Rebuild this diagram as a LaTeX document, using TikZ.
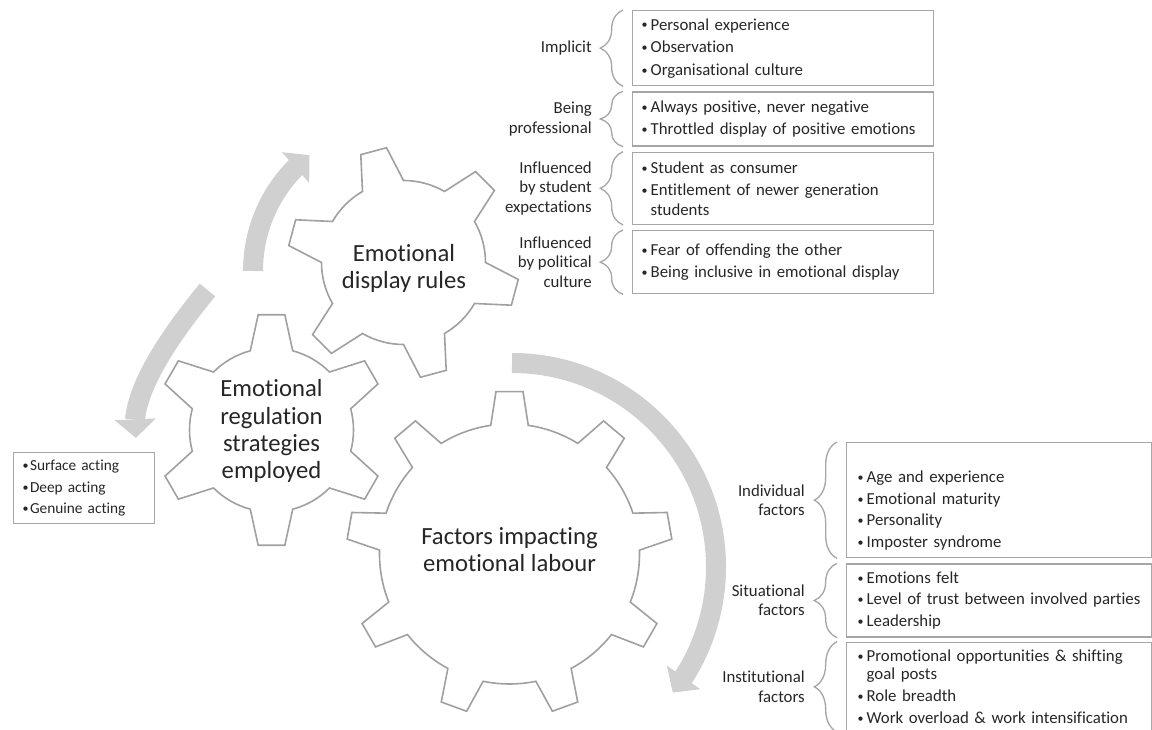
\documentclass[tikz,border=0pt]{standalone}
\usepackage{fontspec}
\setmainfont{Carlito}[Ligatures={TeX,NoCommon}]
\usepackage{tikz}
\usetikzlibrary{positioning,arrows.meta,bending,decorations.pathreplacing}

\definecolor{gearline}{HTML}{A0A0A0}
\definecolor{boxline}{HTML}{A6A6A6}
\definecolor{cycfill}{HTML}{D0D0D0}
\definecolor{ink}{HTML}{262626}

\newcommand{\bul}[1][6.75pt]{\makebox[#1][l]{\raisebox{0.8pt}{\fontsize{9}{9}\selectfont\textbullet}}}
\newcommand{\nobul}[1][6.75pt]{\hspace*{#1}}

% gear outline: centre x, centre y, teeth, outer r, inner r,
% tip half-angle, root half-angle, angle of first tooth
\newcommand{\drawgear}[8]{%
  \pgfmathsetmacro\gstep{360/#3}%
  \pgfmathtruncatemacro\glast{#3-1}%
  \begin{scope}[shift={(#1,#2)}]
    \draw[gearshape] ({#8-#7}:#5)
      \foreach \k in {0,...,\glast}{
        -- ({#8+\k*\gstep-#6}:#4) -- ({#8+\k*\gstep+#6}:#4) -- ({#8+\k*\gstep+#7}:#5)
        arc[start angle={#8+\k*\gstep+#7}, end angle={#8+(\k+1)*\gstep-#7}, radius=#5]
      } -- cycle;
  \end{scope}}

\begin{document}
\begin{tikzpicture}[
  x=0.75pt, y=0.75pt,
  font=\fontsize{12.6}{14.5}\selectfont, text=ink,
  gearshape/.style={draw=gearline, line width=1.2pt, fill=white},
  geartext/.style={align=center, font=\fontsize{18.5}{20.3}\selectfont},
  listbox/.style={draw=boxline, line width=1pt, align=left, inner ysep=0pt, anchor=north west},
  topbox/.style={listbox, inner xsep=6.75pt, text width=212.25pt, minimum height=#1},
  botbox/.style={listbox, inner xsep=8.25pt, text width=212.25pt, minimum height=#1,
    font=\fontsize{12.6}{13.5}\selectfont},
  lbl/.style={align=right, anchor=east, inner sep=0pt},
  brc/.style={draw=boxline, line width=1pt, decorate, decoration={brace, amplitude=17pt}},
  cyc/.style={draw=cycfill, line width=15pt, -{Triangle[width=30pt, length=14pt]}},
]
\useasboundingbox (0,0) rectangle (1152,730);

% circular arrows
\draw[cyc] (253,459) arc[start angle=180, end angle=128, radius=147];
\draw[cyc] (207.5,440) .. controls (152.4,373.1) and (128.6,323.8) .. (136,292);
\draw[cyc] (512,367) arc[start angle=90, end angle=-38, radius=204];

% gears
\drawgear{509.5}{176}{9}{163}{130}{4.75}{8.3}{90}
\drawgear{271.5}{300}{6}{116}{82}{6.6}{15}{30}
\drawgear{403.5}{467.5}{6}{116}{82}{6.6}{15}{45}

\node[geartext] (dsp) at (404,462) {Emotional\\display rules};
\node[geartext] (reg) at (271.5,299) {Emotional\\regulation\\strategies\\employed};
\node[geartext] (fac) at (509.5,180) {Factors impacting\\emotional labour};

% display rules
\node[topbox=56.25pt] (imp) at (632,720)
  {\bul Personal experience\\[2.4pt]\bul Observation\\[2.4pt]\bul Organisational culture};
\node[topbox=40.5pt, below=3.75pt of imp] (pro)
  {\bul Always positive, never negative\\[2.4pt]\bul Throttled display of positive emotions};
\node[topbox=54pt, below=3.75pt of pro] (stu)
  {\bul Student as consumer\\[2.4pt]\bul Entitlement of newer generation\\\nobul students};
\node[topbox=47.25pt, below=3.75pt of stu] (pol)
  {\bul Fear of offending the other\\[2.4pt]\bul Being inclusive in emotional display};

\draw[brc] ([xshift=-6.75pt]imp.south west) -- ([xshift=-6.75pt]imp.north west);
\draw[brc] ([xshift=-6.75pt]pro.south west) -- ([xshift=-6.75pt]pro.north west);
\draw[brc] ([xshift=-6.75pt]stu.south west) -- ([xshift=-6.75pt]stu.north west);
\draw[brc] ([xshift=-6.75pt]pol.south west) -- ([xshift=-6.75pt]pol.north west);

\node[lbl] (impl) at ([xshift=-30pt]imp.west) {Implicit};
\node[lbl] (prol) at ([xshift=-30pt]pro.west) {Being\\professional};
\node[lbl] (stul) at ([xshift=-30pt]stu.west) {Influenced\\by student\\expectations};
\node[lbl] (poll) at ([xshift=-30pt]pol.west) {Influenced\\by political\\culture};

% factors
\node[botbox=86.25pt] (ind) at (846,288)
  {\mbox{}\\[11pt]\bul Age and experience\\[2.7pt]\bul Emotional maturity\\[2.7pt]\bul Personality\\[2.7pt]\bul Imposter syndrome};
\node[botbox=54.75pt, below=3.75pt of ind] (sit)
  {\bul Emotions felt\\[2.7pt]\bul Level of trust between involved parties\\[2.7pt]\bul Leadership};
\node[botbox=66.75pt, below=3pt of sit] (ins)
  {\bul Promotional opportunities \& shifting\\\nobul goal posts\\[2.7pt]\bul Role breadth\\[2.7pt]\bul Work overload \& work intensification};

\draw[brc] ([xshift=-6.75pt]ind.south west) -- ([xshift=-6.75pt]ind.north west);
\draw[brc] ([xshift=-6.75pt]sit.south west) -- ([xshift=-6.75pt]sit.north west);
\draw[brc] ([xshift=-6.75pt]ins.south west) -- ([xshift=-6.75pt]ins.north west);

\node[lbl] (indl) at ([xshift=-30.75pt]ind.west) {Individual\\factors};
\node[lbl] (sitl) at ([xshift=-30.75pt]sit.west) {Situational\\factors};
\node[lbl] (insl) at ([xshift=-30.75pt]ins.west) {Institutional\\factors};

% regulation strategies
\node[listbox, inner xsep=6.75pt, text width=92.25pt, minimum height=53.25pt,
  font=\fontsize{11.5}{13.8}\selectfont] (act) at (13,278)
  {\bul[5.5pt]Surface acting\\[2.5pt]\bul[5.5pt]Deep acting\\[2.5pt]\bul[5.5pt]Genuine acting};
\end{tikzpicture}
\end{document}
